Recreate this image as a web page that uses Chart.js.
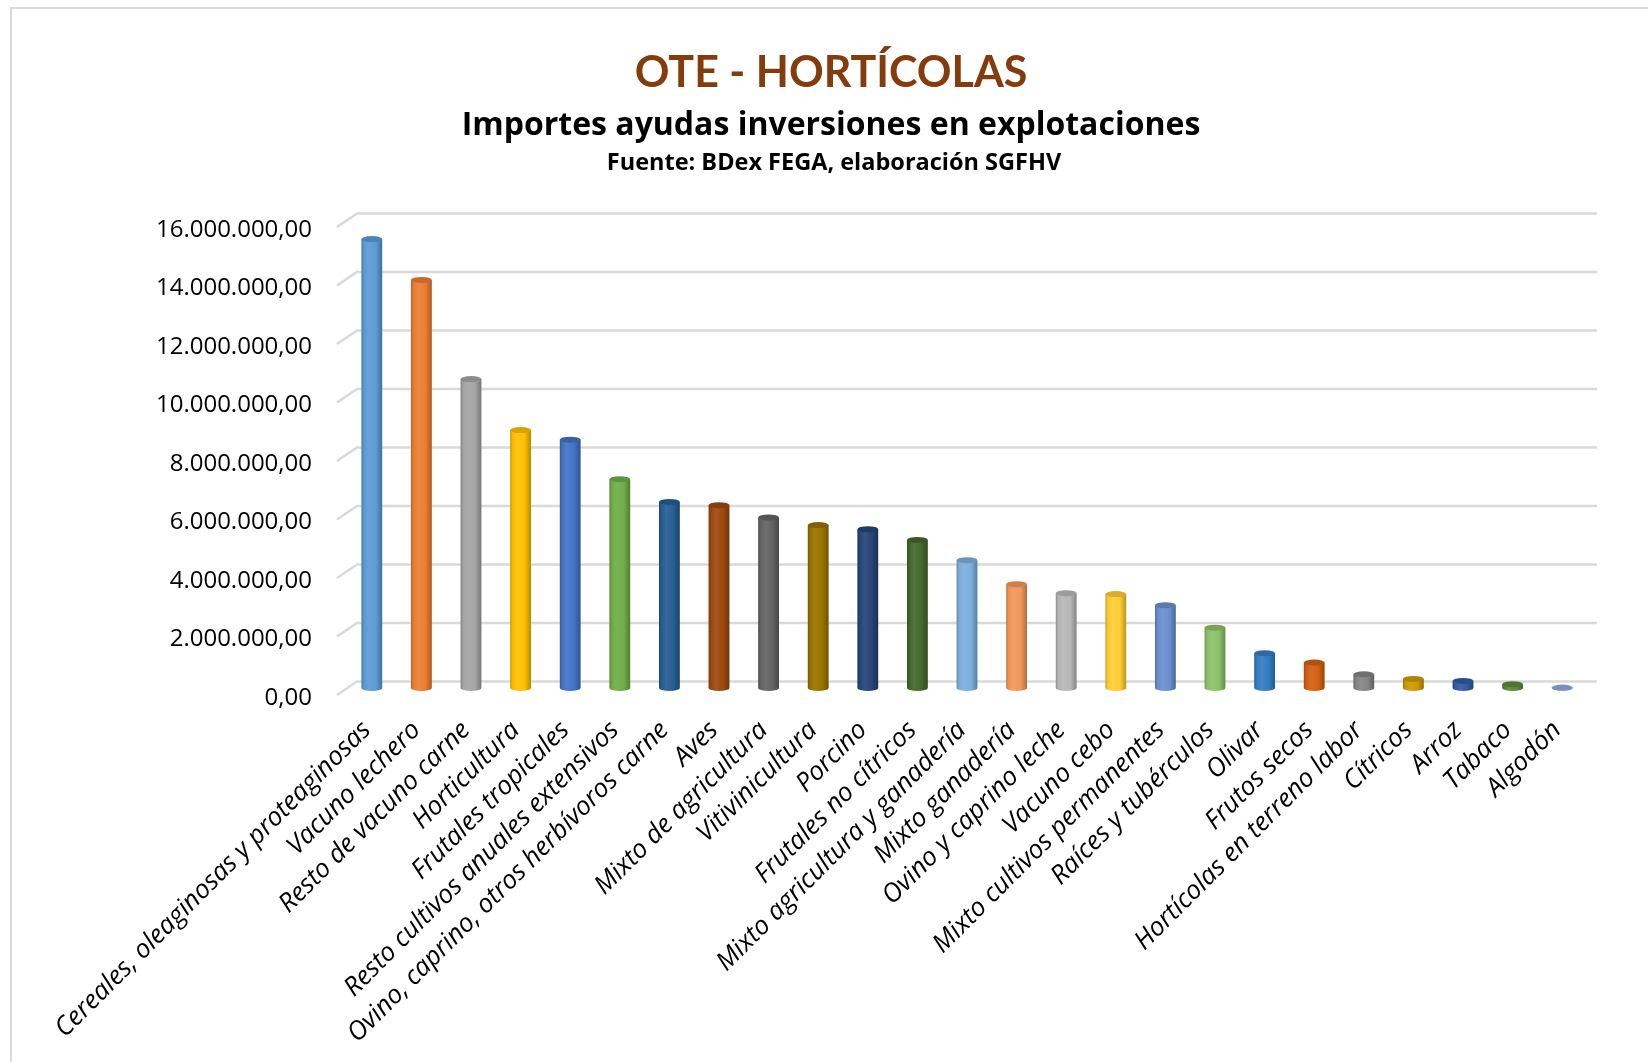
<!DOCTYPE html>
<html>
<head>
<meta charset="utf-8">
<script src="https://cdn.jsdelivr.net/npm/chart.js@4.4.1/dist/chart.umd.min.js"></script>
<style>
  body { margin: 0; background: #fff; }
  canvas { display: block; }
</style>
</head>
<body>
<canvas id="chart" width="1648" height="1062"></canvas>
<script>
const categories = [
  'Cereales, oleaginosas y proteaginosas', 'Vacuno lechero', 'Resto de vacuno carne',
  'Horticultura', 'Frutales tropicales', 'Resto cultivos anuales extensivos',
  'Ovino, caprino, otros herbívoros carne', 'Aves', 'Mixto de agricultura',
  'Vitivinicultura', 'Porcino', 'Frutales no cítricos', 'Mixto agricultura y ganadería',
  'Mixto ganadería', 'Ovino y caprino leche', 'Vacuno cebo', 'Mixto cultivos permanentes',
  'Raíces y tubérculos', 'Olivar', 'Frutos secos', 'Hortícolas en terreno labor',
  'Cítricos', 'Arroz', 'Tabaco', 'Algodón'
];
const importes = [
  15350000, 13950000, 10560000, 8820000, 8490000, 7140000, 6360000, 6250000,
  5830000, 5570000, 5430000, 5060000, 4370000, 3550000, 3240000, 3210000,
  2830000, 2060000, 1190000, 870000, 470000, 310000, 240000, 130000, 15000
];
const barColors = [
  '#5B9BD5', '#ED7D31', '#A5A5A5', '#FFC000', '#4472C4', '#70AD47', '#255E91',
  '#9E480E', '#636363', '#997300', '#264478', '#43682B', '#7CAFDD', '#F1975A',
  '#B7B7B7', '#FFCD33', '#698ED0', '#8CC168', '#327DC2', '#D26012', '#848484',
  '#CC9A00', '#335AA1', '#5A8A39', '#8FAADC'
];
const yTicks = [0, 2000000, 4000000, 6000000, 8000000, 10000000, 12000000, 14000000, 16000000];

const FONT = '"Open Sans", Lato, sans-serif';
const TITLE_FONT = 'Lato, "Open Sans", sans-serif';

function fmt(v) {
  const s = Math.round(v).toString().replace(/\B(?=(\d{3})+(?!\d))/g, '.');
  return s + ',00';
}

function shade(hex, f) {
  const n = parseInt(hex.slice(1), 16);
  let r = (n >> 16) & 255, g = (n >> 8) & 255, b = n & 255;
  if (f < 1) { r *= f; g *= f; b *= f; }
  else { r += (255 - r) * (f - 1); g += (255 - g) * (f - 1); b += (255 - b) * (f - 1); }
  return 'rgb(' + Math.round(r) + ',' + Math.round(g) + ',' + Math.round(b) + ')';
}

// 3D-ish depth of the walls
const DX = 10, DY_BACK = 6.5, DY_FRONT = 7;

const decor = {
  id: 'decor',
  beforeDraw(chart) {
    const ctx = chart.ctx;
    ctx.save();
    ctx.fillStyle = '#fff';
    ctx.fillRect(0, 0, chart.width, chart.height);
    ctx.strokeStyle = '#D9D9D9';
    ctx.lineWidth = 2;
    ctx.beginPath();
    ctx.moveTo(11, chart.height);
    ctx.lineTo(11, 8);
    ctx.lineTo(chart.width, 8);
    ctx.stroke();

    ctx.textAlign = 'center';
    ctx.textBaseline = 'middle';
    ctx.fillStyle = '#843C0C';
    ctx.font = 'bold 43px ' + TITLE_FONT;
    ctx.fillText('OTE - HORTÍCOLAS', 831, 73);
    ctx.fillStyle = '#000';
    ctx.font = 'bold 32px ' + FONT;
    ctx.fillText('Importes ayudas inversiones en explotaciones', 831, 126);
    ctx.font = 'bold 23.5px ' + FONT;
    ctx.fillText('Fuente: BDex FEGA, elaboración SGFHV', 834, 163);
    ctx.restore();
  },
  beforeDatasetsDraw(chart) {
    const ctx = chart.ctx, y = chart.scales.y, area = chart.chartArea;
    ctx.save();
    ctx.strokeStyle = '#D9D9D9';
    ctx.lineWidth = 2.5;
    yTicks.forEach(v => {
      const py = y.getPixelForValue(v);
      ctx.beginPath();
      ctx.moveTo(area.left - DX, py + DY_FRONT);
      ctx.lineTo(area.left + DX, py - DY_BACK);
      ctx.lineTo(area.right + DX, py - DY_BACK);
      ctx.stroke();
    });
    ctx.restore();
  },
  afterDatasetsDraw(chart) {
    const ctx = chart.ctx;
    const meta = chart.getDatasetMeta(0);
    ctx.save();
    meta.data.forEach((bar, i) => {
      const c = barColors[i];
      const w = bar.width, x0 = bar.x - w / 2, x1 = bar.x + w / 2;
      const top = bar.y, base = bar.base, ry = 3;
      const g = ctx.createLinearGradient(x0, 0, x1, 0);
      g.addColorStop(0, shade(c, 0.78));
      g.addColorStop(0.12, shade(c, 0.98));
      g.addColorStop(0.35, shade(c, 1.08));
      g.addColorStop(0.7, c);
      g.addColorStop(1, shade(c, 0.72));
      ctx.fillStyle = g;
      ctx.beginPath();
      ctx.moveTo(x0, top);
      ctx.lineTo(x0, base);
      ctx.ellipse(bar.x, base, w / 2, ry, 0, Math.PI, 0, true);
      ctx.lineTo(x1, top);
      ctx.closePath();
      ctx.fill();
      ctx.fillStyle = shade(c, 0.85);
      ctx.beginPath();
      ctx.ellipse(bar.x, top, w / 2, ry, 0, 0, Math.PI * 2);
      ctx.fill();
    });
    ctx.restore();
  }
};

new Chart(document.getElementById('chart'), {
  type: 'bar',
  data: {
    labels: categories,
    datasets: [{
      label: 'Importes',
      data: importes,
      backgroundColor: 'rgba(0,0,0,0)',
      categoryPercentage: 1,
      barPercentage: 0.42
    }]
  },
  options: {
    responsive: false,
    animation: false,
    layout: { padding: { top: 220, right: 61, left: 0, bottom: 0 } },
    plugins: { legend: { display: false }, tooltip: { enabled: false } },
    scales: {
      x: {
        grid: { display: false, drawTicks: false },
        border: { display: false },
        ticks: {
          autoSkip: false, minRotation: 45, maxRotation: 45, padding: 27, labelOffset: -5,
          color: '#000', font: { family: FONT, size: 26, style: 'italic' }
        },
        afterFit: s => { s.height = 374; }
      },
      y: {
        min: 0, max: 16000000,
        grid: { display: false, drawTicks: false },
        border: { display: false },
        ticks: {
          stepSize: 2000000, padding: 35, labelOffset: 10,
          color: '#000', font: { family: FONT, size: 24 },
          callback: v => fmt(v)
        },
        afterFit: s => { s.width = 347; }
      }
    }
  },
  plugins: [decor]
});
</script>
</body>
</html>
